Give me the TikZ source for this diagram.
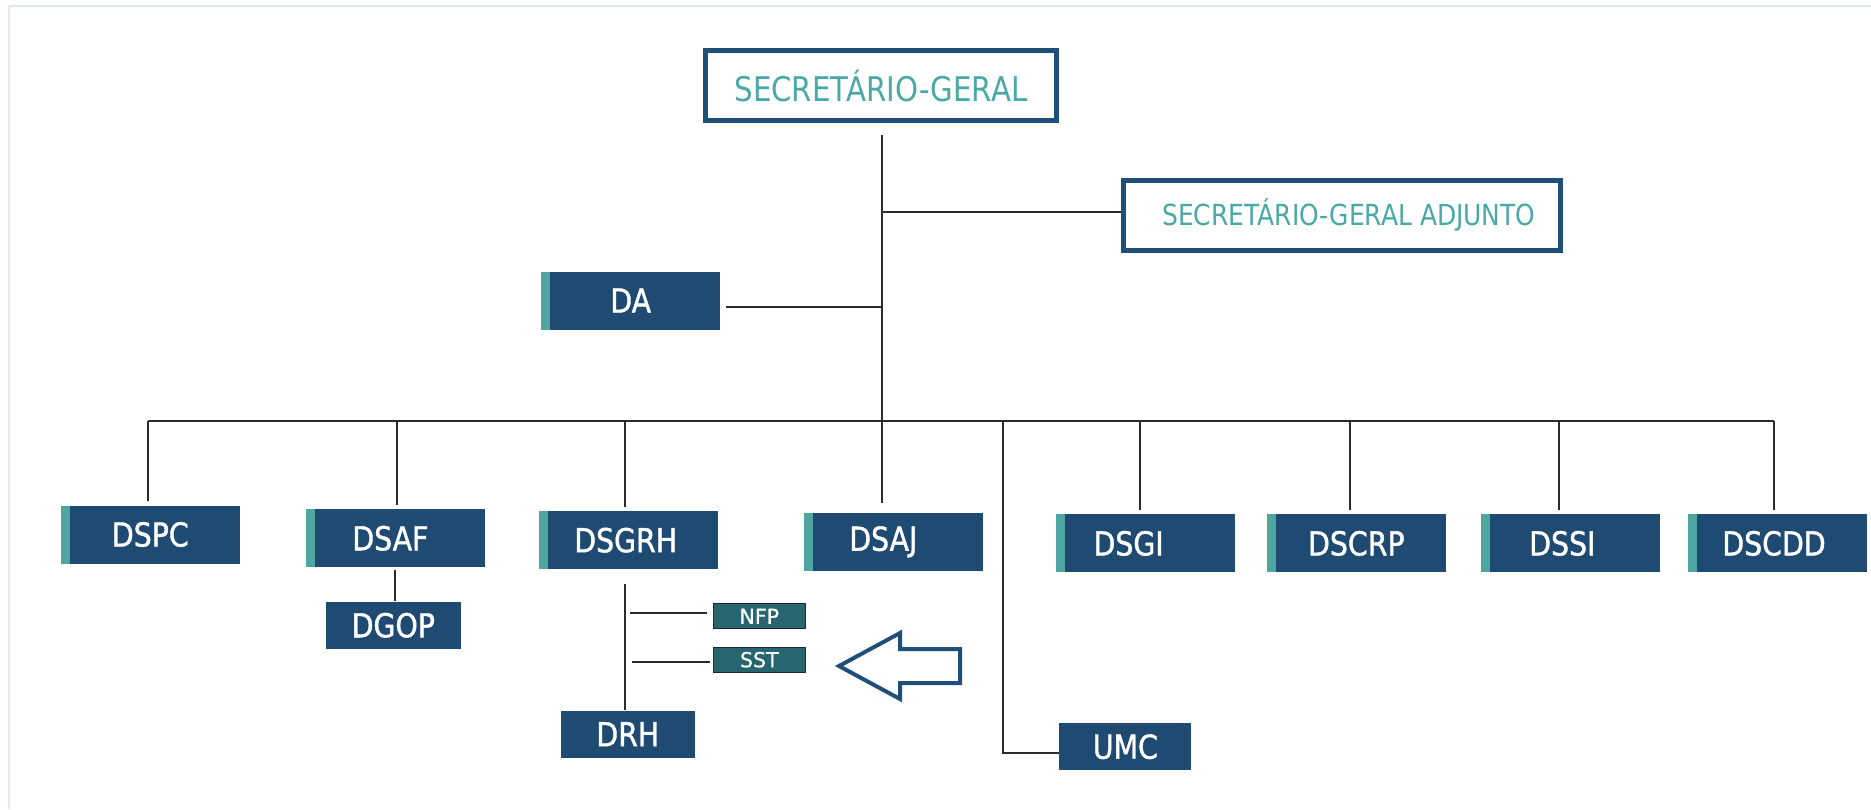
\documentclass[tikz,border=0pt]{standalone}
\usepackage{fontspec}
\setmainfont{DejaVu Sans}
\newfontfamily\boxfont[FakeStretch=0.86]{DejaVu Sans}
\newfontfamily\unitfont[FakeStretch=0.86,FakeBold=1.2]{DejaVu Sans}
\newfontfamily\tagfont[FakeBold=0.6]{DejaVu Sans}

\definecolor{boxblue}{HTML}{1F4A72}
\definecolor{stripc}{HTML}{4FA5A0}
\definecolor{headblue}{HTML}{1F4E79}
\definecolor{titleteal}{HTML}{48A9A6}
\definecolor{tagteal}{HTML}{276570}
\definecolor{linec}{HTML}{2B2B2B}
\definecolor{frametop}{HTML}{DCE6F5}
\definecolor{frameleft}{HTML}{E2E7F2}

\tikzset{
  boxbase/.style={fill=boxblue, text=white, inner sep=0pt,
    font=\unitfont\fontsize{16.5}{18}\selectfont},
  unit/.style={boxbase, minimum width=89.5pt, minimum height=29pt,
    path picture={\fill[stripc] (path picture bounding box.south west)
      rectangle ([xshift=4.5pt]path picture bounding box.north west);}},
  subunit/.style={boxbase, minimum height=23.5pt},
  head/.style={draw=headblue, line width=2.5pt, fill=white, text=titleteal,
    inner sep=0pt, minimum height=35pt},
  tag/.style={fill=tagteal, draw=black!85, line width=0.5pt, text=white,
    inner sep=0pt, minimum width=46pt, minimum height=12.5pt,
    font=\tagfont\fontsize{10.3}{11}\selectfont},
  link/.style={draw=linec, line width=1pt},
  callout/.style={draw=headblue, line width=2pt, fill=white, line join=miter}
}

\begin{document}
\begin{tikzpicture}[x=0.5pt,y=-0.5pt]
\useasboundingbox (0,0) rectangle (1871,809);

% page frame
\draw[frametop, line width=1pt] (8,6) -- (1871,6);
\draw[frameleft, line width=1pt] (9,6) -- (9,809);

% top of the hierarchy
\node[head, minimum width=175.5pt, font=\boxfont\fontsize{17}{19}\selectfont]
  (sg) at (880.9,85.8) {SECRETÁRIO-GERAL};
\node[head, minimum width=218.5pt, font=\boxfont\fontsize{14.5}{16}\selectfont]
  (sga) at (1341.9,215) {\hspace*{7pt}SECRETÁRIO-GERAL ADJUNTO};
\node[unit] (da) at (630.7,300.5) {DA};

% directorates
\node[unit] (dspc)  at (150.3,534.5)  {DSPC};
\node[unit] (dsaf)  at (395.4,538.3)  {DSAF\hspace*{5pt}};
\node[unit] (dsgrh) at (628.7,540.2)  {DSGRH\hspace*{3pt}};
\node[unit] (dsaj)  at (893.3,541.8)  {DSAJ\hspace*{10pt}};
\node[unit] (dsgi)  at (1145.6,543.4) {DSGI\hspace*{17pt}};
\node[unit] (dscrp) at (1356.3,543.4) {DSCRP};
\node[unit] (dssi)  at (1570.3,543.4) {DSSI\hspace*{8pt}};
\node[unit] (dscdd) at (1777,543.4)   {DSCDD\hspace*{3pt}};

% subordinate units
\node[subunit, minimum width=67.5pt] (dgop) at (393.3,625.3) {DGOP};
\node[subunit, minimum width=67pt]   (drh)  at (627.8,734.2) {DRH};
\node[subunit, minimum width=66pt]   (umc)  at (1125.3,746.7) {UMC};
\node[tag] (nfp) at (759.3,616.3) {NFP};
\node[tag] (sst) at (759.3,659.7) {SST};

% junction points of the connector tree
\coordinate (t0) at (882,135);
\coordinate (tsga) at (882,211.5);
\coordinate (tda) at (882,307);
\coordinate (barL) at (148.3,421);
\coordinate (barR) at (1773.9,421);
\coordinate (dend) at (882,503);
\coordinate (ux) at (1003,421);
\coordinate (ubend) at (1003,752.7);
\coordinate (g0) at (625.3,584);
\coordinate (gn) at (630,613.3);
\coordinate (gs) at (631.7,662.3);

% trunk and side branches
\draw[link] (t0) -- (dend);
\draw[link] (tsga) -- (tsga -| sga.west);
\draw[link, shorten >=2.5pt] (tda) -- (tda -| da.east);
\draw[link] (barL) -- (barR);

% drops from the bar
\foreach \x/\n in {148.3/dspc, 396.7/dsaf, 625.3/dsgrh, 1140/dsgi,
                   1350/dscrp, 1559.4/dssi, 1773.9/dscdd}
  \draw[link, shorten >=2pt] (\x,421) -- (\x,421 |- \n.north);

% unit under the DSAF
\draw[link] ([yshift=-1pt]dsaf.south) -- (dsaf.south |- dgop.north);

% DSGRH branch
\draw[link] (g0) -- (g0 |- drh.north);
\draw[link, shorten >=3pt] (gn) -- (gn -| nfp.west);
\draw[link, shorten >=1.5pt] (gs) -- (gs -| sst.west);

% UMC branch
\draw[link] (ux) -- (ubend) -- (ubend -| umc.west);

% arrow pointing at SST
\draw[callout] (839,666) -- (900,633) -- (900,649) -- (960,649)
  -- (960,683) -- (900,683) -- (900,699) -- cycle;
\end{tikzpicture}
\end{document}
